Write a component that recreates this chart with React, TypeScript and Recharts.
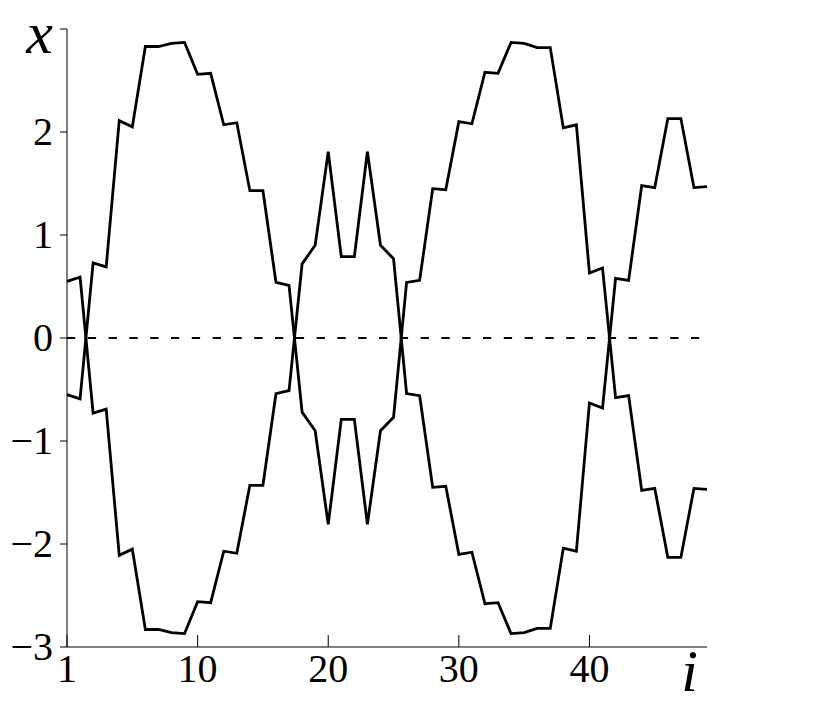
import React from "react"
import { LineChart, Line, XAxis, YAxis, ReferenceLine, Label } from "recharts"

// step index i (plotted at 0..49, first tick labelled "1")
const steps = [
    0, 1, 2, 3, 4, 5, 6, 7, 8, 9,
    10, 11, 12, 13, 14, 15, 16, 17, 18, 19,
    20, 21, 22, 23, 24, 25, 26, 27, 28, 29,
    30, 31, 32, 33, 34, 35, 36, 37, 38, 39,
    40, 41, 42, 43, 44, 45, 46, 47, 48, 49,
]

// first branch
const branchA = [
    -0.55, -0.59, 0.73, 0.69, 2.11, 2.05, 2.83, 2.83, 2.86, 2.87,
    2.56, 2.57, 2.07, 2.09, 1.43, 1.43, 0.54, 0.51, -0.72, -0.9,
    -1.81, -0.79, -0.79, -1.81, -0.9, -0.77, 0.54, 0.56, 1.45, 1.44,
    2.1, 2.08, 2.58, 2.57, 2.87, 2.86, 2.82, 2.82, 2.04, 2.07,
    0.63, 0.68, -0.58, -0.56, -1.48, -1.46, -2.13, -2.13, -1.46, -1.47,
]

// mirrored branch
const branchB = [
    0.55, 0.59, -0.73, -0.69, -2.11, -2.05, -2.83, -2.83, -2.86, -2.87,
    -2.56, -2.57, -2.07, -2.09, -1.43, -1.43, -0.54, -0.51, 0.72, 0.9,
    1.81, 0.79, 0.79, 1.81, 0.9, 0.77, -0.54, -0.56, -1.45, -1.44,
    -2.1, -2.08, -2.58, -2.57, -2.87, -2.86, -2.82, -2.82, -2.04, -2.07,
    -0.63, -0.68, 0.58, 0.56, 1.48, 1.46, 2.13, 2.13, 1.46, 1.47,
]

const xTicks = [0, 10, 20, 30, 40]
const xTickLabels = ["1", "10", "20", "30", "40"]
const yTicks = [-3, -2, -1, 0, 1, 2, 3]
const yTickLabels = ["\u22123", "\u22122", "\u22121", "0", "1", "2", "x"]

const chartData = steps.map((i, k) => ({ i, a: branchA[k], b: branchB[k] }))

const FONT = "'Liberation Serif', 'DejaVu Serif', serif"

// bottom ticks point inward, label below
const BottomTick = (props: any) => {
    const { x, y, payload } = props
    const k = xTicks.indexOf(payload.value)
    return (
        <g>
            <line x1={x} y1={y} x2={x} y2={y - 12} stroke="#000" strokeWidth={1} />
            <text x={x} y={y + 35} textAnchor="middle" fontFamily={FONT} fontSize={40} fill="#000">
                {xTickLabels[k]}
            </text>
        </g>
    )
}

// top ticks point inward, no label
const TopTick = (props: any) => {
    const { x, y } = props
    return <line x1={x} y1={y} x2={x} y2={y + 12} stroke="#000" strokeWidth={1} />
}

const LeftTick = (props: any) => {
    const { x, y, payload } = props
    const label = yTickLabels[yTicks.indexOf(payload.value)]
    if (label === "x") {
        return (
            <text x={x} y={y + 24} textAnchor="end" fontFamily={FONT} fontStyle="italic" fontSize={60} fill="#000">
                {label}
            </text>
        )
    }
    return (
        <text x={x} y={y} dy="0.33em" textAnchor="end" fontFamily={FONT} fontSize={40} fill="#000">
            {label}
        </text>
    )
}

const NoLabel = () => <g />

export default function App() {
    return (
        <div style={{ position: "absolute", left: 0, top: 0, background: "#fff" }}>
            <LineChart
                width={832}
                height={713}
                data={chartData}
                margin={{ top: 29, right: 125, left: 7, bottom: 26 }}
            >
                <XAxis
                    dataKey="i"
                    type="number"
                    domain={[0, 49]}
                    ticks={xTicks}
                    height={40}
                    tickSize={0}
                    tickMargin={0}
                    tickLine={false}
                    axisLine={{ stroke: "#000", strokeWidth: 1 }}
                    tick={<BottomTick />}
                    interval={0}
                >
                    <Label
                        content={(p: any) => (
                            <text
                                x={p.viewBox.x + p.viewBox.width - 9}
                                y={p.viewBox.y + 44}
                                textAnchor="end"
                                fontFamily={FONT}
                                fontStyle="italic"
                                fontSize={60}
                                fill="#000"
                            >
                                i
                            </text>
                        )}
                    />
                </XAxis>
                <XAxis
                    xAxisId="top"
                    orientation="top"
                    dataKey="i"
                    type="number"
                    domain={[0, 49]}
                    ticks={xTicks}
                    height={0}
                    tickSize={0}
                    tickMargin={0}
                    tickLine={false}
                    axisLine={{ stroke: "#000", strokeWidth: 1 }}
                    tick={<TopTick />}
                    interval={0}
                />
                <YAxis
                    type="number"
                    domain={[-3, 3]}
                    ticks={yTicks}
                    width={60}
                    tickSize={7}
                    tickMargin={7}
                    tickLine={{ stroke: "#000", strokeWidth: 1 }}
                    axisLine={{ stroke: "#000", strokeWidth: 1 }}
                    tick={<LeftTick />}
                    interval={0}
                />
                <YAxis
                    yAxisId="right"
                    orientation="right"
                    type="number"
                    domain={[-3, 3]}
                    ticks={yTicks}
                    width={0}
                    tickSize={7}
                    tickLine={{ stroke: "#333", strokeWidth: 1 }}
                    axisLine={{ stroke: "#333", strokeWidth: 1.5 }}
                    tick={<NoLabel />}
                    interval={0}
                />
                <ReferenceLine y={0} stroke="#000" strokeWidth={2.2} strokeDasharray="8.3 12.5" />
                <Line
                    type="linear"
                    dataKey="a"
                    stroke="#000"
                    strokeWidth={2.8}
                    dot={false}
                    isAnimationActive={false}
                />
                <Line
                    type="linear"
                    dataKey="b"
                    stroke="#000"
                    strokeWidth={2.8}
                    dot={false}
                    isAnimationActive={false}
                />
            </LineChart>
        </div>
    )
}
